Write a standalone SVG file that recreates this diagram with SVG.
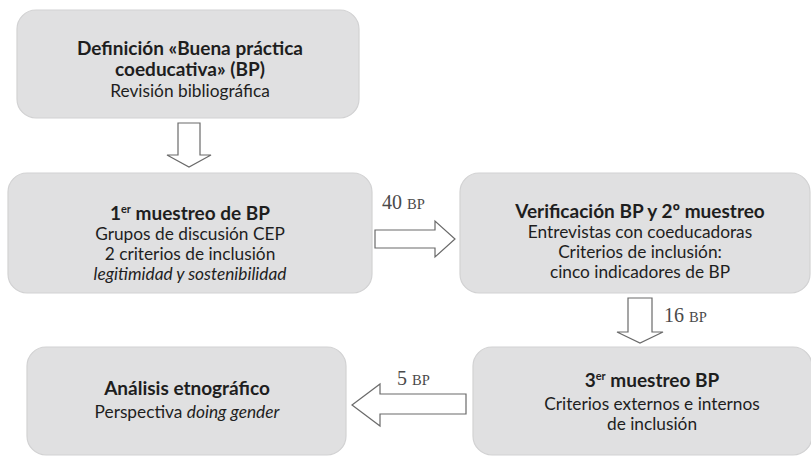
<svg xmlns="http://www.w3.org/2000/svg" width="811" height="457" viewBox="0 0 811 457">
<style>
.box{fill:#e0e0e1;stroke:#d2d2d3;stroke-width:1.2}
.t{font-family:Lato,"Open Sans",sans-serif;font-size:17.3px;fill:#1e1e1e;text-anchor:middle}
.b{font-weight:bold;font-size:19px}
.i{font-style:italic}
.sup{font-size:11px}
.arr{fill:#ffffff;stroke:#6a6a6a;stroke-width:1.2;stroke-linejoin:miter}
.lbl{font-family:"Liberation Serif",serif;font-size:20px;fill:#4a4a4a}
.sc{font-size:14.5px}
</style>
<rect width="811" height="457" fill="#ffffff"/>
<g id="n1">
<rect class="box" x="17" y="10" width="342" height="108" rx="19"/>
<text class="t b" x="190" y="55">Definición «Buena práctica</text>
<text class="t b" x="190" y="76">coeducativa» (BP)</text>
<text class="t" x="190" y="97">Revisión bibliográfica</text>
</g>
<g id="n2">
<rect class="box" x="8" y="173" width="364" height="120" rx="19"/>
<text class="t b" x="190" y="220">1<tspan class="sup" dy="-7">er</tspan><tspan dy="7"> muestreo de BP</tspan></text>
<text class="t" x="190" y="240">Grupos de discusión CEP</text>
<text class="t" x="190" y="260">2 criterios de inclusión</text>
<text class="t i" x="190" y="280">legitimidad y sostenibilidad</text>
</g>
<g id="n3">
<rect class="box" x="460" y="173" width="350" height="120" rx="19"/>
<text class="t b" x="640" y="218">Verificación BP y 2º muestreo</text>
<text class="t" x="640" y="238">Entrevistas con coeducadoras</text>
<text class="t" x="640" y="258">Criterios de inclusión:</text>
<text class="t" x="640" y="278">cinco indicadores de BP</text>
</g>
<g id="n4">
<rect class="box" x="27" y="347" width="319" height="108" rx="19"/>
<text class="t b" x="187" y="395">Análisis etnográfico</text>
<text class="t" x="187" y="418">Perspectiva <tspan class="i">doing gender</tspan></text>
</g>
<g id="n5">
<rect class="box" x="473" y="347" width="339" height="108" rx="19"/>
<text class="t b" x="652" y="387">3<tspan class="sup" dy="-7">er</tspan><tspan dy="7"> muestreo BP</tspan></text>
<text class="t" x="652" y="410">Criterios externos e internos</text>
<text class="t" x="652" y="430">de inclusión</text>
</g>
<g id="connectors">
<polygon class="arr" points="178,123 200,123 200,155 211,155 189,167 167,155 178,155"/>
<polygon class="arr" points="375,230 435,230 435,221 455,239 435,257 435,248 375,248"/>
<text class="lbl" x="382" y="209">40 <tspan class="sc">BP</tspan></text>
<polygon class="arr" points="628,298 652,298 652,332 663,332 640,343 617,332 628,332"/>
<text class="lbl" x="664" y="322">16 <tspan class="sc">BP</tspan></text>
<polygon class="arr" points="466,394 466,414 380,414 380,426 352,405 380,384 380,394"/>
<text class="lbl" x="397" y="385">5 <tspan class="sc">BP</tspan></text>
</g>
</svg>
